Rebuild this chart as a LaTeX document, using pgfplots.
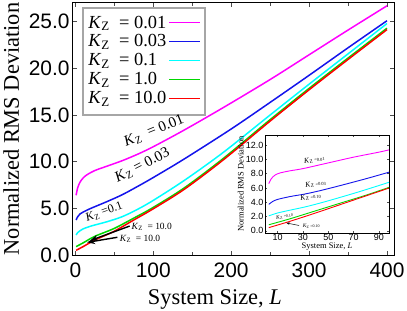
\documentclass[border=0pt]{standalone}
\usepackage{fontspec}
\setmainfont{Liberation Serif}
\setsansfont{Liberation Sans}
\usepackage{pgfplots}
\pgfplotsset{compat=1.18}
\usetikzlibrary{arrows.meta}
\definecolor{cmag}{RGB}{255,0,255}
\definecolor{cblue}{RGB}{20,20,235}
\definecolor{ccyan}{RGB}{0,255,255}
\definecolor{cgreen}{RGB}{0,215,0}
\definecolor{cred}{RGB}{255,0,0}
\newcommand{\KZ}{\textit{K}\textsubscript{Z}}
\begin{document}
\begin{tikzpicture}
\path[use as bounding box] (-73bp,-56bp) rectangle (334bp,255bp);
\begin{axis}[
 scale only axis, width=321bp, height=252bp,
 xmin=-3, xmax=409, ymin=0, ymax=27,
 xtick={0,100,...,400}, minor xtick={50,150,250,350},
 ytick={0,5,...,25},
 yticklabel style={/pgf/number format/.cd, fixed, fixed zerofill, precision=1},
 ticklabel style={font=\fontsize{21}{21}\sffamily},
 /pgf/number format/assume math mode=true,
 xticklabel style={yshift=-4bp},
 tick style={black!70, line width=0.6bp},
 major tick length=4bp, minor tick length=3bp,
 axis line style={line width=1bp},
 xlabel={System Size, \textit{L}}, ylabel={Normalized RMS Deviation},
 label style={font=\fontsize{22.5}{22.5}\selectfont},
 xlabel style={at={(axis description cs:0.442,-0.198)}, anchor=base, inner sep=0pt},
 ylabel style={at={(axis description cs:-0.218,0.5)}, anchor=north, inner sep=0pt},
 legend style={at={(axis description cs:0.038,0.962)}, anchor=north west, draw=none, fill=none, font=\fontsize{18.5}{21}\selectfont, legend cell align=left, inner sep=1bp, row sep=1.2bp},
 legend plot pos=right,
 legend image code/.code={\draw[mark repeat=2,mark phase=2,#1,line width=1.5bp] plot coordinates {(0bp,0bp) (15.5bp,0bp) (31bp,0bp)};},
]
\draw[black!35, line width=2.6bp, fill=white] (axis description cs:0.031,0.980) rectangle (axis description cs:0.411,0.556);
\addplot[cmag, line width=1.5bp, smooth] coordinates {(1,6.4)(3,7.2)(6,7.8)(10,8.25)(15,8.6)(25,9.05)(40,9.5)(60,10.1)(80,10.8)(100,11.6)(140,13.4)(190,15.8)(250,18.8)(300,21.45)(350,24.1)(400,26.7)};
\addlegendentry{\KZ\ \ = 0.01}
\addplot[cblue, line width=1.5bp, smooth] coordinates {(1,3.75)(3,4.1)(6,4.4)(10,4.6)(20,5.0)(40,5.7)(60,6.45)(80,7.35)(100,8.3)(140,10.3)(200,13.5)(250,16.35)(300,19.25)(350,22.2)(400,25.1)};
\addlegendentry{\KZ\ \ = 0.03}
\addplot[ccyan, line width=1.5bp, smooth] coordinates {(1,2.15)(3,2.4)(6,2.6)(10,2.8)(20,3.1)(40,3.55)(60,4.1)(80,4.9)(100,5.85)(140,8.0)(190,11.0)(250,15.0)(300,18.3)(350,21.55)(400,24.8)};
\addlegendentry{\KZ\ \ = 0.1}
\addplot[cgreen, line width=1.5bp, smooth] coordinates {(1,0.9)(10,1.3)(25,2.0)(50,2.85)(75,3.95)(100,5.1)(140,7.2)(190,10.35)(250,14.5)(300,17.85)(350,21.1)(400,24.3)};
\addlegendentry{\KZ\ \ = 1.0}
\addplot[cred, line width=1.5bp, smooth] coordinates {(1,0.5)(10,0.9)(25,1.6)(50,2.55)(75,3.75)(100,4.95)(140,7.05)(190,10.2)(250,14.35)(300,17.7)(350,20.95)(400,24.15)};
\addlegendentry{\KZ\ \ = 10.0}
\node[rotate=22, font=\fontsize{15}{15}\selectfont] at (axis cs:101,13.3) {\KZ\ \ = 0.01};
\node[rotate=27, font=\fontsize{15}{15}\selectfont] at (axis cs:86,9.6) {\KZ\ = 0.03};
\node[rotate=20, font=\fontsize{12}{12}\selectfont] at (axis cs:37,4.6) {\KZ\ =0.1};
\node[font=\fontsize{9.5}{9.5}\selectfont] at (axis cs:98,3.0) {\KZ\ \ = 10.0};
\node[font=\fontsize{9.5}{9.5}\selectfont] at (axis cs:83,1.75) {\KZ\ \ = 10.0};
\draw[-{Stealth[length=8bp,width=6bp]}, line width=1.4bp] (axis cs:69.7,3.1) -- (axis cs:19,1.55);
\draw[-{Stealth[length=8bp,width=6bp]}, line width=1.4bp] (axis cs:54,1.9) -- (axis cs:15,1.35);
\end{axis}
\begin{axis}[
 at={(192bp,22bp)}, anchor=south west,
 scale only axis, width=124bp, height=98bp,
 xmin=0, xmax=98, ymin=-0.3, ymax=13.4,
 axis background/.style={fill=white},
 xtick={10,30,...,90}, ytick={0,2,...,12},
 yticklabel style={/pgf/number format/.cd, fixed, fixed zerofill, precision=1},
 ticklabel style={font=\fontsize{9}{9}\sffamily, inner sep=1.5bp},
 /pgf/number format/assume math mode=true,
 tick style={black!70, line width=0.4bp},
 major tick length=2bp,
 axis line style={line width=0.6bp},
 xlabel={System Size, \textit{L}}, ylabel={Normalized RMS Deviation},
 label style={font=\fontsize{8.5}{8.5}\selectfont, inner sep=0.5bp},
]
\addplot[cmag, line width=0.9bp, smooth] coordinates {(3,6.6)(5,7.3)(8,7.8)(12,8.1)(20,8.4)(30,8.7)(50,9.5)(70,10.3)(90,11.0)(100,11.4)};
\addplot[cblue, line width=0.9bp, smooth] coordinates {(3,3.7)(6,4.1)(10,4.4)(20,4.8)(33,5.2)(50,5.9)(78,7.2)(100,8.3)};
\addplot[ccyan, line width=0.9bp, smooth] coordinates {(3,2.1)(10,2.5)(20,2.9)(33,3.4)(50,4.2)(75,5.5)(100,6.9)};
\addplot[cgreen, line width=0.9bp, smooth] coordinates {(3,0.85)(20,1.7)(40,2.8)(60,3.9)(80,5.0)(100,6.2)};
\addplot[cred, line width=0.9bp, smooth] coordinates {(3,0.45)(20,1.35)(40,2.5)(60,3.7)(80,4.9)(100,6.1)};
\node[rotate=8, font=\fontsize{7.5}{7.5}\selectfont] at (axis cs:39,9.9) {\KZ\,{\fontsize{4.5}{5}\selectfont =0.01}};
\node[rotate=8, font=\fontsize{7.5}{7.5}\selectfont] at (axis cs:40,6.5) {\KZ\,{\fontsize{4.5}{5}\selectfont =0.03}};
\node[rotate=8, font=\fontsize{7.5}{7.5}\selectfont] at (axis cs:36,4.7) {\KZ\,{\fontsize{4.5}{5}\selectfont =0.10}};
\node[rotate=8, font=\fontsize{5.5}{5.5}\selectfont] at (axis cs:15.5,2.0) {\KZ\,{\fontsize{4}{4}\selectfont =0.10}};
\node[font=\fontsize{5.5}{5.5}\selectfont] at (axis cs:36.5,0.6) {\KZ\,{\fontsize{4}{4}\selectfont =0.10}};
\draw[-{Stealth[length=3bp,width=2.5bp]}, line width=0.5bp] (axis cs:27,0.75) -- (axis cs:17,1.1);
\end{axis}
\end{tikzpicture}
\end{document}
